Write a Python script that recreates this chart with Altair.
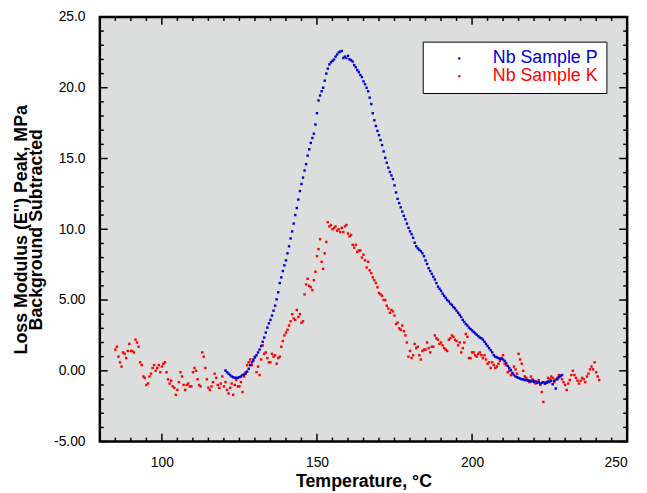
import altair as alt
import pandas as pd

# ---------------- data ----------------
series_names = ["Nb Sample P", "Nb Sample K"]
series_colors = ["#0000d8", "#ff0000"]

# Nb Sample P : sampled every 0.5 degC starting at 120.5 degC
blue_start, blue_step = 120.5, 0.5
blue_val = [
    0.02, -0.1, -0.2, -0.3, -0.4, -0.45, -0.5, -0.5, -0.5, -0.45,
    -0.4, -0.3, -0.25, -0.2, -0.05, 0.15, 0.4, 0.6, 0.8, 0.95,
    1.1, 1.3, 1.5, 1.75, 2.05, 2.35, 2.7, 3.05, 3.35, 3.6,
    3.9, 4.25, 4.6, 5.05, 5.55, 6.2, 6.6, 7.05, 7.45, 7.8,
    8.3, 8.8, 9.35, 9.85, 10.4, 11.0, 11.5, 12.1, 12.7, 13.2,
    13.65, 14.15, 14.6, 15.2, 15.65, 16.1, 16.45, 16.75, 17.4, 18.2,
    19.1, 19.45, 19.75, 20.0, 20.5, 21.0, 21.35, 21.65, 21.8, 21.9,
    22.0, 22.2, 22.35, 22.5, 22.55, 22.6, 22.1, 22.2, 22.1, 22.25,
    22.0, 21.95, 21.85, 21.6, 21.45, 21.25, 21.1, 20.9, 20.75, 20.45,
    20.25, 20.0, 19.75, 19.3, 18.85, 18.2, 17.7, 17.3, 16.95, 16.65,
    16.3, 15.95, 15.5, 15.05, 14.7, 14.35, 14.05, 13.8, 13.55, 13.1,
    12.6, 12.15, 11.85, 11.55, 11.25, 10.95, 10.7, 10.4, 10.1, 9.85,
    9.65, 9.4, 9.05, 8.8, 8.65, 8.55, 8.45, 8.3, 8.1, 7.8,
    7.55, 7.25, 7.05, 6.85, 6.65, 6.45, 6.2, 5.95, 5.8, 5.65,
    5.45, 5.3, 5.15, 5.0, 4.9, 4.75, 4.65, 4.5, 4.4, 4.25,
    4.1, 3.95, 3.8, 3.6, 3.45, 3.3, 3.2, 3.05, 2.95, 2.85,
    2.75, 2.65, 2.55, 2.45, 2.35, 2.3, 2.2, 2.05, 1.9, 1.75,
    1.6, 1.45, 1.3, 1.1, 1.0, 0.95, 0.9, 0.85, 0.85, 0.8,
    0.7, 0.55, 0.35, 0.2, 0.05, -0.15, -0.3, -0.4, -0.45, -0.5,
    -0.55, -0.6, -0.6, -0.65, -0.65, -0.7, -0.7, -0.75, -0.7, -0.8,
    -0.75, -0.85, -0.8, -0.9, -0.85, -0.8, -0.9, -0.85, -0.75, -0.8,
    -0.7, -0.95, -0.7, -1.25, -0.6, -0.45, -0.35, -0.3,
]

# Nb Sample K : sampled every 0.5 degC starting at 85.0 degC
red_start, red_step = 85.0, 0.5
red_val = [
    1.5, 1.7, 1.0, 0.6, 0.3, 1.3, 1.2, 0.9, 1.4, 1.9,
    1.4, 1.4, 1.3, 2.2, 2.0, 1.7, 0.6, 0.4, -0.4, -0.5,
    -1.0, -0.9, -0.4, -0.2, 0.2, 0.4, 0.0, 0.2, 0.4, -0.1,
    0.3, 0.5, 0.6, -0.1, -0.6, -0.9, -0.7, -1.1, -1.2, -1.7,
    -1.35, -0.8, -0.1, -0.4, -1.0, -1.35, -1.0, -0.9, -1.1, -1.1,
    -0.1, 0.2, 0.0, -0.6, -1.0, -1.1, 1.3, 1.0, 0.2, -0.6,
    -1.2, -1.35, -1.1, -0.8, -0.2, -0.5, -1.0, -1.2, -0.9, -0.4,
    -1.1, -0.8, -1.35, -1.6, -1.2, -0.9, -1.7, -1.0, -0.65, -1.1,
    -1.1, -0.8, -1.5, -0.4, -0.1, 0.4, 0.6, 0.8, 0.4, 0.7,
    1.0, -0.1, 0.3, -0.3, 0.8, 1.8, 1.2, 1.3, 0.9, 0.6,
    0.6, 1.2, 1.0, 1.1, 0.5, 0.9, 1.0, 1.7, 2.1, 2.5,
    2.7, 2.9, 3.2, 3.5, 4.0, 3.7, 3.6, 4.3, 3.8, 4.0,
    3.4, 3.5, 5.4, 6.1, 6.5, 6.0, 5.9, 5.7, 6.4, 7.0,
    8.1, 8.6, 9.3, 7.7, 7.2, 8.3, 9.1, 10.5, 10.2, 10.3,
    10.0, 10.1, 10.2, 9.9, 10.0, 9.8, 10.1, 9.8, 10.2, 10.3,
    9.7, 9.5, 9.6, 8.9, 8.7, 8.9, 8.4, 8.5, 8.5, 8.0,
    8.2, 7.8, 7.3, 7.7, 7.1, 6.9, 6.6, 6.4, 6.2, 5.9,
    5.5, 5.4, 5.3, 5.0, 5.0, 4.6, 4.4, 4.1, 4.3, 4.2,
    3.9, 3.3, 3.4, 3.0, 2.9, 3.2, 2.8, 2.5, 2.0, 1.0,
    1.4, 0.9, 1.1, 1.9, 1.6, 1.7, 1.1, 0.8, 1.4, 1.5,
    1.5, 2.0, 1.6, 1.3, 1.7, 1.7, 2.5, 2.3, 2.2, 1.9,
    2.0, 1.8, 1.6, 1.5, 1.4, 2.2, 2.3, 2.5, 2.4, 2.2,
    2.1, 1.8, 2.0, 1.3, 1.6, 2.0, 2.6, 2.4, 0.9, 0.9,
    1.3, 1.3, 1.1, 1.0, 1.2, 1.3, 1.1, 0.9, 1.1, 0.8,
    0.5, 0.6, 0.2, 0.6, 0.4, 0.2, 0.3, 0.5, 0.7, 0.9,
    1.1, 0.5, 0.4, -0.1, 0.0, -0.3, -0.2, 0.3, 0.1, -0.2,
    1.2, 0.8, 0.5, 0.0, -0.4, -0.5, -0.65, -0.8, -0.4, -0.6,
    -0.7, -0.9, -0.8, -0.65, -1.0, -1.5, -2.2, -0.9, -0.8, -0.5,
    -0.6, -0.4, -0.5, -0.8, -0.6, -0.5, -0.3, -0.4, -0.6, -0.8,
    -1.0, -1.35, -0.9, -0.65, -0.3, 0.0, -0.3, -0.5, -0.7, -0.9,
    -0.7, -0.5, -0.6, -0.8, -0.4, -0.2, 0.1, 0.3, 0.1, 0.6,
    -0.1, -0.4, -0.65,
]

x_major = [100, 150, 200, 250]
x_minor = [85, 90, 95, 105, 110, 115, 120, 125, 130, 135, 140, 145,
           155, 160, 165, 170, 175, 180, 185, 190, 195,
           205, 210, 215, 220, 225, 230, 235, 240, 245]
y_major = [-5, 0, 5, 10, 15, 20, 25]
y_minor = [-4, -3, -2, -1, 1, 2, 3, 4, 6, 7, 8, 9, 11, 12, 13, 14,
           16, 17, 18, 19, 21, 22, 23, 24]

red_temp = [red_start + red_step * i for i in range(len(red_val))]
blue_temp = [blue_start + blue_step * i for i in range(len(blue_val))]

df = pd.DataFrame({
    "T": red_temp + blue_temp,
    "v": red_val + blue_val,
    "series": [series_names[1]] * len(red_val) + [series_names[0]] * len(blue_val),
})

W, H = 534, 430
MAJ, MIN = 8, 4
FONT = "Liberation Sans"
xs = alt.Scale(domain=[80, 250], nice=False, zero=False)
ys = alt.Scale(domain=[-5, 25], nice=False, zero=False)

x_axis = alt.Axis(
    orient="bottom", values=x_major, format="d", ticks=False,
    labelPadding=14, labelFont=FONT, labelFontSize=14, labelColor="black",
    title="Temperature, °C", titleFont=FONT, titleFontSize=18,
    titleFontWeight="bold", titleColor="black", titlePadding=4,
    domain=False, grid=False)
y_axis = alt.Axis(
    orient="left", values=y_major, ticks=False,
    labelExpr="datum.value >= 10 ? format(datum.value, '.1f') : replace(format(datum.value, '.2f'), '\u2212', '-')",
    labelPadding=15, labelFont=FONT, labelFontSize=14, labelColor="black",
    title=["Loss Modulus (E'') Peak, MPa", "Background Subtracted"],
    titleFont=FONT, titleFontSize=18, titleFontWeight="bold", titleColor="black",
    titleLineHeight=15, titlePadding=8, domain=False, grid=False)

points = alt.Chart(df).mark_square(size=6, opacity=1).encode(
    x=alt.X("T:Q", scale=xs, axis=x_axis),
    y=alt.Y("v:Q", scale=ys, axis=y_axis),
    color=alt.Color("series:N",
                    scale=alt.Scale(domain=series_names, range=series_colors),
                    legend=alt.Legend(
                        title=None, orient="none", legendX=327, legendY=25,
                        fillColor="white", strokeColor="black", padding=8,
                        symbolType="square", symbolSize=5, symbolStrokeWidth=0,
                        symbolOffset=20, labelOffset=25,
                        labelFont=FONT, labelFontSize=18,
                        labelColor={"expr": "datum.label === 'Nb Sample P' ? '#0000d8' : '#ff0000'"},
                        rowPadding={"expr": "-2"})),
)

xmaj_df = pd.DataFrame({"T": x_major})
xmin_df = pd.DataFrame({"T": x_minor})
ymaj_df = pd.DataFrame({"v": y_major})
ymin_df = pd.DataFrame({"v": y_minor})


def x_ticks(data, length, at_top):
    y0 = 0 if at_top else H
    y1 = length if at_top else H - length
    return alt.Chart(data).mark_rule(color="black", strokeWidth=1.5).encode(
        x=alt.X("T:Q", scale=xs, axis=None),
        y=alt.value(y0), y2=alt.value(y1))


def y_ticks(data, length, at_right):
    x0 = W if at_right else 0
    x1 = W - length if at_right else length
    return alt.Chart(data).mark_rule(color="black", strokeWidth=1.5).encode(
        y=alt.Y("v:Q", scale=ys, axis=None),
        x=alt.value(x0), x2=alt.value(x1))


layers = [
    points,
    x_ticks(xmaj_df, MAJ, False), x_ticks(xmaj_df, MAJ, True),
    x_ticks(xmin_df, MIN, False), x_ticks(xmin_df, MIN, True),
    y_ticks(ymaj_df, MAJ, False), y_ticks(ymaj_df, MAJ, True),
    y_ticks(ymin_df, MIN, False), y_ticks(ymin_df, MIN, True),
]

chart = alt.layer(*layers).resolve_axis(
    x="independent", y="independent"
).properties(
    width=W, height=H,
    autosize=alt.AutoSizeParams(type="none"),
    padding={"left": 93, "top": 6, "right": 12, "bottom": 49},
    background="white",
).configure_view(
    fill="#dcdddd", stroke="black", strokeWidth=2.5,
)

chart.save("out.html", embed_options={"renderer": "svg", "actions": False})
